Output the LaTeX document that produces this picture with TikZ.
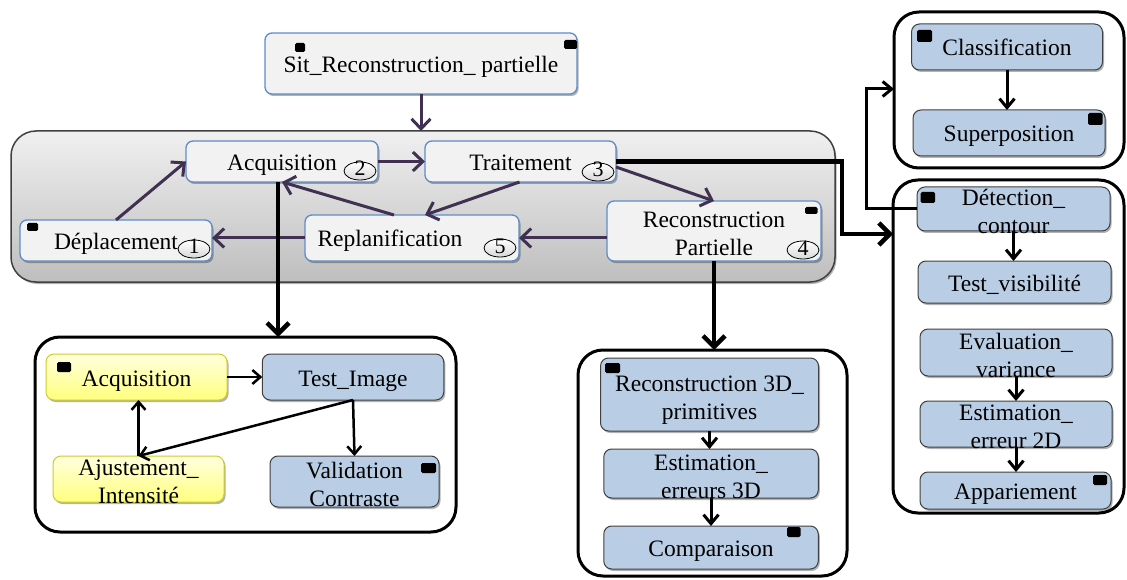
\documentclass[tikz,border=0pt]{standalone}
\usepackage{fontspec}
\setmainfont{Liberation Serif}
\usetikzlibrary{arrows.meta,shapes.geometric,shadows}
\definecolor{arrpurple}{RGB}{64,49,82}
\definecolor{topborder}{RGB}{95,140,200}
\definecolor{topfill}{RGB}{242,242,242}
\definecolor{bluefill}{RGB}{185,205,229}
\definecolor{blueborder}{RGB}{64,64,64}
\definecolor{yelltop}{RGB}{255,255,222}
\definecolor{yellbot}{RGB}{255,255,125}
\definecolor{yellborder}{RGB}{205,205,40}
\definecolor{graytop}{RGB}{240,240,240}
\definecolor{graybot}{RGB}{190,190,190}
\newcommand{\twol}[2]{\begin{tabular}[t]{@{}c@{}}#1\\#2\end{tabular}}
\tikzset{
  base/.style={font=\fontsize{23.5}{28}\selectfont, inner sep=0pt, outer sep=0pt, text height=18pt, text depth=0pt},
  lines2/.style={text height=0pt, text depth=7pt},
  shad/.style={drop shadow={shadow xshift=1.5pt,shadow yshift=-2pt,opacity=0.3,fill=black}},
  topbox/.style={base, shad, draw=topborder, line width=1.3pt, fill=topfill, rounded corners=7pt},
  bluebox/.style={base, shad, draw=blueborder, line width=1pt, fill=bluefill, rounded corners=8pt},
  yellbox/.style={base, shad, draw=yellborder, line width=1pt, top color=yelltop, bottom color=yellbot, rounded corners=8pt},
  frame/.style={draw=black, line width=3pt, rounded corners=25pt, inner sep=0pt, outer sep=0pt, fill=white},
  graybox/.style={shad, draw=black!75, line width=1.5pt, rounded corners=25pt, top color=graytop, bottom color=graybot, inner sep=0pt, outer sep=0pt},
  num/.style={ellipse, draw, line width=0.8pt, top color=white, bottom color=gray!30, minimum width=32pt, minimum height=18pt, inner sep=0pt, font=\fontsize{22}{22}\selectfont, text height=10pt, text depth=0pt},
  parr/.style={draw=arrpurple, line width=3pt, -{Straight Barb[length=10pt,width=19pt]}},
  bigarr/.style={draw=black, line width=4.5pt, -{Straight Barb[length=11pt,width=22pt]}},
  midarr/.style={draw=black, line width=3pt, -{Straight Barb[length=9pt,width=15pt]}},
  sarr/.style={draw=black, line width=2.5pt, -{Straight Barb[length=8pt,width=14pt]}},
  sq/.style={fill=black, rounded corners=1.5pt}
}
\begin{document}
\begin{tikzpicture}[x=1pt,y=-1pt]
\path[use as bounding box] (0,0) rectangle (1127,580);

% containers
\node[graybox, minimum width=824pt, minimum height=151pt] (loop) at (423,206.5) {};
\node[frame, minimum width=421pt, minimum height=195pt] (llf) at (245.5,434.5) {};
\node[frame, minimum width=269pt, minimum height=226pt] (lmf) at (712.5,463) {};
\node[frame, minimum width=230pt, minimum height=156pt] (r1f) at (1009,90) {};
\node[frame, minimum width=231pt, minimum height=333pt] (r2f) at (1008.5,346.5) {};

% top boxes
\node[topbox, minimum width=312pt, minimum height=61pt] (sit) at (421,63.5) {Sit\_Reconstruction\_ partielle};
\node[topbox, minimum width=192pt, minimum height=41pt] (acq) at (282,161.5) {Acquisition};
\node[topbox, minimum width=191pt, minimum height=41pt] (trt) at (520.5,161.5) {Traitement};
\node[topbox, minimum width=192pt, minimum height=41pt] (dep) at (116,240.5) {Déplacement};
\node[topbox, minimum width=214pt, minimum height=46pt] (rp) at (412,238) {\hspace*{-44pt}Replanification};
\node[topbox, lines2, minimum width=214pt, minimum height=60pt] (rec) at (714,231) {\twol{Reconstruction}{Partielle}};

\node[num] (n2) at (360,171) {2};
\node[num] (n3) at (598,172) {3};
\node[num] (n1) at (194,249) {1};
\node[num] (n5) at (500,248) {5};
\node[num] (n4) at (803,250) {4};

% right column
\node[bluebox, minimum width=191pt, minimum height=46pt] (cls) at (1007,47) {Classification};
\node[bluebox, minimum width=192pt, minimum height=46pt] (sup) at (1009,133) {Superposition};
\node[bluebox, lines2, minimum width=193pt, minimum height=44pt] (det) at (1013.5,209) {\twol{Détection\_}{contour}};
\node[bluebox, minimum width=193pt, minimum height=42pt] (tv) at (1014.5,282) {Test\_visibilité};
\node[bluebox, lines2, minimum width=192pt, minimum height=47pt] (ev) at (1016,352.5) {\twol{Evaluation\_}{variance}};
\node[bluebox, lines2, minimum width=192pt, minimum height=46pt] (es2) at (1016,424) {\twol{Estimation\_}{erreur 2D}};
\node[bluebox, minimum width=191pt, minimum height=37pt] (ap) at (1015.5,490.5) {Appariement};

% lower left
\node[yellbox, minimum width=181pt, minimum height=46pt] (ya) at (136.5,377) {Acquisition};
\node[bluebox, minimum width=181.5pt, minimum height=46pt] (ti) at (353,377) {Test\_Image};
\node[yellbox, lines2, minimum width=171pt, minimum height=46pt] (aj) at (138.5,479) {\twol{Ajustement\_}{Intensité}};
\node[bluebox, lines2, minimum width=169pt, minimum height=51pt] (vc) at (354.5,481.5) {\twol{Validation}{Contraste}};

% lower middle
\node[bluebox, lines2, minimum width=218pt, minimum height=73pt] (r3) at (709.5,394.5) {\twol{Reconstruction 3D\_}{primitives}};
\node[bluebox, lines2, minimum width=214.5pt, minimum height=49pt] (e3) at (711,473.5) {\twol{Estimation\_}{erreurs 3D}};
\node[bluebox, minimum width=214.5pt, minimum height=43pt] (co) at (711,547.5) {Comparaison};

% purple arrows
\draw[parr] (sit.south) -- (sit.south |- loop.north);
\draw[parr] (dep.north) -- (acq.west);
\draw[parr] (acq.east) -- (trt.west);
\draw[parr] ([xshift=-18pt]rp.north) -- (acq.south);
\draw[parr] ([xshift=-1pt]trt.south) -- ([xshift=13pt]rp.north);
\draw[parr] ([yshift=-5.5pt]trt.east) -- (rec.north);
\draw[parr] (rp.east -| rec.west) -- (rp.east);
\draw[parr] (rp.west) -- (rp.west -| dep.east);

% thick black arrows
\coordinate (a1) at ([xshift=-4pt]acq.south);
\coordinate (b1) at (842,234);
\coordinate (b2) at (866,89);
\draw[bigarr] (a1) -- (a1 |- llf.north);
\draw[bigarr] (rec.south) -- (rec.south |- lmf.north);
\draw[bigarr] (trt.east) -| (b1) -- (b1 -| r2f.west);
\draw[midarr] (det.west) -| (b2) -- (b2 -| r1f.west);

% inner arrows
\draw[midarr] (cls.south) -- (cls.south |- sup.north);
\draw[midarr] (det.south) -- (det.south |- tv.north);
\draw[midarr] (ev.south) -- (ev.south |- es2.north);
\draw[midarr] (es2.south) -- (es2.south |- ap.north);
\draw[midarr] (r3.south) -- (r3.south |- e3.north);
\draw[midarr] (e3.south) -- (e3.south |- co.north);
\draw[sarr] (ya.east) -- (ti.west);
\draw[sarr] (aj.north) -- (aj.north |- ya.south);
\draw[sarr] (ti.south) -- (aj.north);
\draw[sarr] (ti.south) -- (vc.north);

% small black markers
\fill[sq] (295,43) rectangle (305,52);
\fill[sq] (564,40) rectangle (577,49);
\fill[sq] (27,223) rectangle (38,231);
\fill[sq] (805,207) rectangle (817.5,214);
\fill[sq] (917,30) rectangle (932,42);
\fill[sq] (1088,113) rectangle (1102.5,125);
\fill[sq] (920.5,192) rectangle (935,203);
\fill[sq] (1093,475) rectangle (1107,485);
\fill[sq] (57,362) rectangle (71,372);
\fill[sq] (421,463) rectangle (436,473);
\fill[sq] (605,363) rectangle (620,373);
\fill[sq] (787,527) rectangle (800.5,537);
\end{tikzpicture}
\end{document}
